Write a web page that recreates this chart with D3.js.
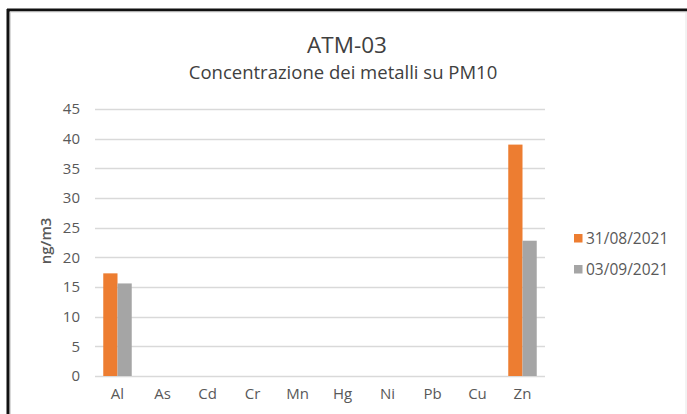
<!DOCTYPE html>
<html>
<head>
<meta charset="utf-8">
<script src="https://cdn.jsdelivr.net/npm/d3@7"></script>
<style>
  body { margin: 0; background: #fff; }
  text { font-family: "Open Sans", sans-serif; fill: #595959; }
</style>
</head>
<body>
<div id="chart"></div>
<script>
// chart data
var categories = ["Al", "As", "Cd", "Cr", "Mn", "Hg", "Ni", "Pb", "Cu", "Zn"];
var seriesNames = ["31/08/2021", "03/09/2021"];
var seriesColors = ["#ed7d31", "#a5a5a5"];
var values0831 = [17.3, 0, 0, 0, 0, 0, 0, 0, 0, 39.0];
var values0309 = [15.6, 0, 0, 0, 0, 0, 0, 0, 0, 22.8];
var yTicks = [0, 5, 10, 15, 20, 25, 30, 35, 40, 45];

var W = 687, H = 414;
var margin = { top: 109, right: 142, bottom: 38, left: 95 },
    width = W - margin.left - margin.right,
    height = H - margin.top - margin.bottom;

var root = d3.select("#chart")
    .append("svg")
    .attr("width", W)
    .attr("height", H);

// frame (top and left edges visible, right edge faint)
root.append("line")
    .attr("x1", 7).attr("y1", 10).attr("x2", W).attr("y2", 10)
    .attr("stroke", "#111").attr("stroke-width", 3);
root.append("line")
    .attr("x1", 8).attr("y1", 9).attr("x2", 8).attr("y2", H)
    .attr("stroke", "#111").attr("stroke-width", 3);
root.append("line")
    .attr("x1", 10).attr("y1", 12).attr("x2", W).attr("y2", 12)
    .attr("stroke", "#d9d9d9").attr("stroke-width", 1);
root.append("line")
    .attr("x1", 10.5).attr("y1", 12).attr("x2", 10.5).attr("y2", H)
    .attr("stroke", "#d9d9d9").attr("stroke-width", 1);
root.append("line")
    .attr("x1", 686).attr("y1", 12).attr("x2", 686).attr("y2", H)
    .attr("stroke", "#e6e6e6").attr("stroke-width", 1);

// titles
root.append("text")
    .attr("x", 347).attr("y", 53)
    .attr("text-anchor", "middle")
    .style("font-size", "22.5px")
    .style("fill", "#404040")
    .text("ATM-03");
root.append("text")
    .attr("x", 343).attr("y", 79)
    .attr("text-anchor", "middle")
    .style("font-size", "18.5px")
    .style("fill", "#404040")
    .text("Concentrazione dei metalli su PM10");

var svg = root.append("g")
    .attr("transform", "translate(" + margin.left + "," + margin.top + ")");

var x = d3.scaleBand()
    .domain(categories)
    .range([0, width]);

var x1 = d3.scaleBand()
    .domain([0, 1])
    .range([0, x.bandwidth()])
    .paddingInner(0)
    .paddingOuter(0.58);

var y = d3.scaleLinear()
    .domain([0, 45])
    .range([height, 0]);

// gridlines
svg.append("g")
    .selectAll("line")
    .data(yTicks)
    .enter()
    .append("line")
    .attr("x1", 0)
    .attr("x2", width)
    .attr("y1", function (d) { return Math.round(y(d)) + 0.5; })
    .attr("y2", function (d) { return Math.round(y(d)) + 0.5; })
    .attr("stroke", "#d9d9d9")
    .attr("stroke-width", 1.3);

// y axis labels
var yAxis = svg.append("g")
    .call(d3.axisLeft(y).tickValues(yTicks).tickSize(0).tickPadding(15));
yAxis.select(".domain").remove();
yAxis.selectAll("text")
    .style("font-size", "15px")
    .style("fill", "#595959");

// x axis labels
var xAxis = svg.append("g")
    .attr("transform", "translate(0," + height + ")")
    .call(d3.axisBottom(x).tickSize(0).tickPadding(12));
xAxis.select(".domain").remove();
xAxis.selectAll("text")
    .style("font-size", "15px")
    .style("fill", "#595959");

// bars
var rows = categories.map(function (c, i) {
    return { cat: c, vals: [values0831[i], values0309[i]] };
});

svg.append("g")
    .selectAll("g")
    .data(rows)
    .enter()
    .append("g")
    .attr("transform", function (d) { return "translate(" + x(d.cat) + ",0)"; })
    .selectAll("rect")
    .data(function (d) { return d.vals.map(function (v, k) { return { k: k, v: v }; }); })
    .enter()
    .append("rect")
    .attr("x", function (d) { return x1(d.k); })
    .attr("width", x1.bandwidth())
    .attr("y", function (d) { return y(d.v); })
    .attr("height", function (d) { return height - y(d.v); })
    .attr("fill", function (d) { return seriesColors[d.k]; });

// y axis title
root.append("text")
    .attr("transform", "translate(51,241) rotate(-90)")
    .attr("text-anchor", "middle")
    .style("font-size", "15px")
    .style("font-weight", "600")
    .style("fill", "#595959")
    .text("ng/m3");

// legend
var legend = root.append("g")
    .selectAll("g")
    .data(seriesNames)
    .enter()
    .append("g")
    .attr("transform", function (d, i) { return "translate(574," + (234 + i * 31) + ")"; });
legend.append("rect")
    .attr("width", 8.5)
    .attr("height", 8.5)
    .attr("fill", function (d, i) { return seriesColors[i]; });
legend.append("text")
    .attr("x", 12)
    .attr("y", 10)
    .style("font-size", "15.5px")
    .style("fill", "#595959")
    .text(function (d) { return d; });
</script>
</body>
</html>
